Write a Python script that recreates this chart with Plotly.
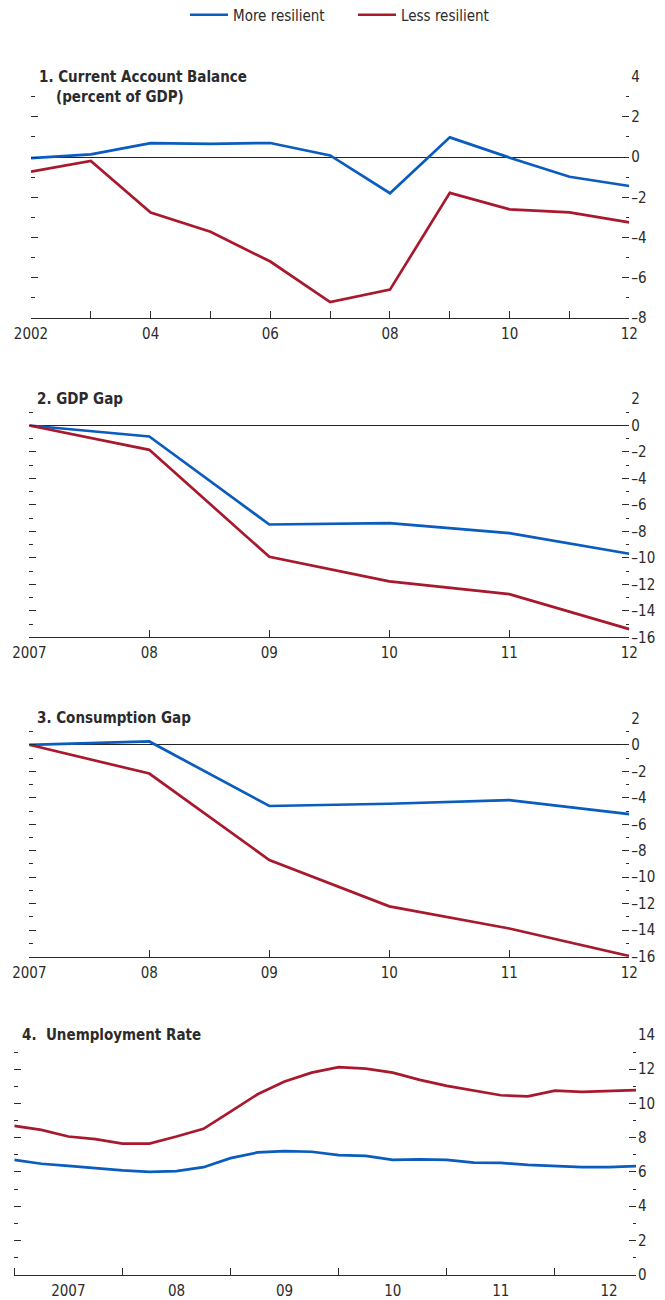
import plotly.graph_objects as go

# ---------------- data ----------------
years_ca = [2002, 2003, 2004, 2005, 2006, 2007, 2008, 2009, 2010, 2011, 2012]
ca_more = [-0.05, 0.13, 0.69, 0.66, 0.70, 0.08, -1.80, 0.98, -0.03, -0.98, -1.44]
ca_less = [-0.73, -0.19, -2.76, -3.72, -5.20, -7.22, -6.60, -1.78, -2.60, -2.75, -3.25]

years_gap = [2007, 2008, 2009, 2010, 2011, 2012]
gdp_more = [0.0, -0.83, -7.48, -7.37, -8.13, -9.69]
gdp_less = [0.0, -1.84, -9.92, -11.78, -12.74, -15.38]

cons_more = [0.0, 0.25, -4.62, -4.45, -4.18, -5.23]
cons_less = [0.0, -2.17, -8.70, -12.20, -13.87, -15.95]

quarters = [f"{y}Q{q}" for y in range(2007, 2013) for q in range(1, 5)]
unemp_more = [6.71, 6.48, 6.36, 6.22, 6.09, 6.01, 6.05, 6.28, 6.81, 7.14, 7.22, 7.18,
              6.98, 6.94, 6.71, 6.73, 6.71, 6.55, 6.53, 6.42, 6.34, 6.28, 6.28, 6.34]
unemp_less = [8.69, 8.46, 8.07, 7.92, 7.66, 7.66, 8.07, 8.52, 9.53, 10.54, 11.28, 11.80,
              12.12, 12.04, 11.80, 11.38, 11.03, 10.74, 10.48, 10.42, 10.75, 10.68, 10.74, 10.78]

series_names = ["More resilient", "Less resilient"]
titles = ["1. Current Account Balance", "2. GDP Gap", "3. Consumption Gap", "4.  Unemployment Rate"]
subtitle1 = "(percent of GDP)"
ca_xlabels = ["2002", "", "04", "", "06", "", "08", "", "10", "", "12"]
gap_xlabels = ["2007", "08", "09", "10", "11", "12"]
unemp_xlabels = ["2007", "08", "09", "10", "11", "12"]

# ---------------- styling ----------------
OFF = 8                      # page body margin of the browser
W, H = 665 - OFF, 1300 - OFF
BLUE = "#0A5CBE"
RED = "#A8192E"
INK = "#2b2b2b"
FONT = "Liberation Sans Narrow, Arial Narrow, DejaVu Sans Condensed, sans-serif"

q_x = [int(q[:4]) + (int(q[-1]) - 1) / 4 for q in quarters]

def xf(px):
    return (px - OFF) / W

def yf(px):
    return 1 - (px - OFF) / H

def ax(n):
    return "" if n == 1 else str(n)

panels = [
    dict(xd=[xf(31), xf(629.3)], yd=[yf(317.8), yf(76.7)], yr=[-8, 4], xr=[2002, 2012]),
    dict(xd=[xf(29.3), xf(629.3)], yd=[yf(637.3), yf(399)], yr=[-16, 2], xr=[2007, 2012]),
    dict(xd=[xf(29.3), xf(629.3)], yd=[yf(956.7), yf(718.3)], yr=[-16, 2], xr=[2007, 2012]),
    dict(xd=[xf(14.3), xf(636)], yd=[yf(1274.7), yf(1035)], yr=[0, 14], xr=[2007, 2012.75]),
]

fig = go.Figure()

data_sets = [
    (years_ca, ca_more, ca_less),
    (years_gap, gdp_more, gdp_less),
    (years_gap, cons_more, cons_less),
    (q_x, unemp_more, unemp_less),
]

for i, (xs, more, less) in enumerate(data_sets):
    n = i + 1
    fig.add_trace(go.Scatter(x=xs, y=more, mode="lines", name=series_names[0],
                             line=dict(color=BLUE, width=2.7), showlegend=(i == 0),
                             xaxis=f"x{ax(n)}", yaxis=f"y{ax(n)}"))
    fig.add_trace(go.Scatter(x=xs, y=less, mode="lines", name=series_names[1],
                             line=dict(color=RED, width=2.7), showlegend=(i == 0),
                             xaxis=f"x{ax(n)}", yaxis=f"y{ax(n)}"))

def fmt(v):
    return ("–" + str(abs(v))) if v < 0 else str(v)

TICKFONT = dict(family=FONT, size=15, color=INK)

layout = {}
for i, p in enumerate(panels):
    n = i + 1
    lo, hi = p["yr"]
    major = [v for v in range(lo, hi + 1) if v % 2 == 0]
    minor = [v for v in range(lo, hi + 1) if v % 2 != 0]
    if i == 0:
        xa = dict(tickvals=years_ca, ticktext=ca_xlabels, ticks="inside", ticklen=7)
    elif i in (1, 2):
        xa = dict(tickvals=years_gap, ticktext=gap_xlabels, ticks="inside", ticklen=7)
    else:
        xa = dict(tickvals=[y + 0.5 for y in range(2007, 2013)], ticktext=unemp_xlabels,
                  ticks="", minor=dict(tickvals=list(range(2007, 2013)), ticks="inside",
                                       ticklen=7, tickcolor=INK, tickwidth=1.3))
    xa.update(domain=p["xd"], range=p["xr"], anchor=f"y{ax(n)}", showline=True, linecolor=INK,
              linewidth=1.3, tickcolor=INK, tickwidth=1.3, showgrid=False, zeroline=False,
              tickfont=TICKFONT, fixedrange=True, automargin=False, ticklabelstandoff=2)
    layout[f"xaxis{ax(n)}"] = xa
    layout[f"yaxis{ax(n)}"] = dict(
        domain=p["yd"], range=p["yr"], anchor=f"x{ax(n)}", side="right",
        tickvals=major, ticktext=[fmt(v) for v in major], ticks="inside", ticklen=7,
        tickcolor=INK, tickwidth=1.2,
        minor=dict(tickvals=minor, ticks="inside", ticklen=3.5, tickcolor=INK, tickwidth=1.2),
        showgrid=False, showline=False,
        zeroline=(i < 3), zerolinecolor="#222222", zerolinewidth=1.1,
        tickfont=TICKFONT, fixedrange=True, automargin=False, ticklabelstandoff=1)
    layout[f"yaxis{n + 4}"] = dict(
        overlaying=f"y{ax(n)}", range=p["yr"], anchor=f"x{ax(n)}", side="left",
        tickvals=major, showticklabels=False, ticks="inside", ticklen=7,
        tickcolor=INK, tickwidth=1.2,
        minor=dict(tickvals=minor, ticks="inside", ticklen=3.5, tickcolor=INK, tickwidth=1.2),
        showgrid=False, showline=False, zeroline=False, fixedrange=True, automargin=False)

for i, (xs, more, less) in enumerate(data_sets):
    n = i + 1
    fig.add_trace(go.Scatter(x=[xs[0]], y=[more[0]], mode="markers", marker=dict(opacity=0),
                             showlegend=False, hoverinfo="skip",
                             xaxis=f"x{ax(n)}", yaxis=f"y{n + 4}"))

title_font = dict(family=FONT, size=15, color=INK)
annotations = []
title_levels = [4, 2, 2, 14]
for i, t in enumerate(titles):
    n = i + 1
    annotations.append(dict(text=f"<b>{t}</b>", xref=f"x{ax(n)} domain", x=0, xshift=6,
                            yref=f"y{ax(n)}", y=title_levels[i], xanchor="left", yanchor="middle",
                            showarrow=False, font=title_font))
annotations.append(dict(text=f"<b>{subtitle1}</b>", xref="x domain", x=0, xshift=23,
                        yref="y", y=3, xanchor="left", yanchor="middle",
                        showarrow=False, font=title_font))
layout["annotations"] = annotations

fig.update_layout(
    width=W, height=H,
    margin=dict(l=0, r=0, t=0, b=0, autoexpand=False),
    paper_bgcolor="white", plot_bgcolor="white",
    showlegend=True,
    legend=dict(orientation="h", x=xf(185), xanchor="left", y=yf(15), yanchor="middle",
                font=dict(family=FONT, size=15, color=INK), itemwidth=38,
                entrywidth=115, entrywidthmode="pixels",
                traceorder="normal", bgcolor="rgba(0,0,0,0)"),
    **layout,
)

fig.write_html("out.html")
